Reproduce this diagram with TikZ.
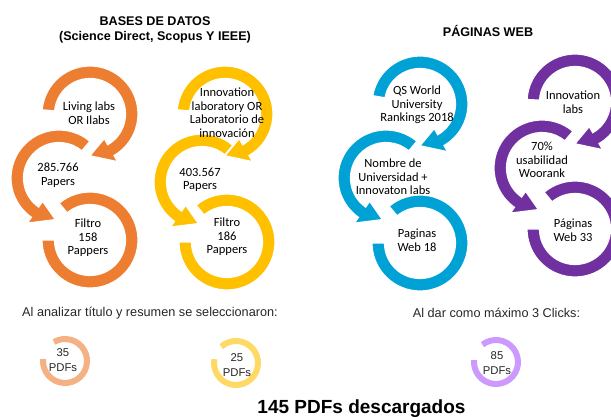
\documentclass[tikz,border=0pt]{standalone}
\usepackage{fontspec}
\setmainfont{Liberation Sans}
\newfontfamily\calfont{Carlito}
\usetikzlibrary{calc}
\definecolor{corange}{HTML}{ED7D31}
\definecolor{cyellow}{HTML}{FFC000}
\definecolor{cblue}{HTML}{00A2D6}
\definecolor{cpurple}{HTML}{7030A0}
\definecolor{lorange}{HTML}{F4B183}
\definecolor{lyellow}{HTML}{FFD966}
\definecolor{lpurple}{HTML}{CC99FF}
\definecolor{txtgray}{HTML}{262626}
% #1 centre, #2 start angle, #3 end angle, #4 tip angle, #5 colour
\newcommand\arrowring[5]{%
  \filldraw[ringshape, fill=#5] ($(#1)+(#2:48)$) arc[start angle=#2, end angle=#3, radius=48]
    -- ($(#1)+(#3:55)$) -- ($(#1)+(#4:41.75)$) -- ($(#1)+(#3:28.5)$)
    -- ($(#1)+(#3:35.5)$) arc[start angle=#3, end angle=#2, radius=35.5] -- cycle;}
% #1 centre, #2 start angle, #3 end angle, #4 colour
\newcommand\plainring[4]{%
  \filldraw[ringshape, fill=#4] ($(#1)+(#2:48)$) arc[start angle=#2, end angle=#3, radius=48]
    -- ($(#1)+(#3:35.5)$) arc[start angle=#3, end angle=#2, radius=35.5] -- cycle;}
\begin{document}
\begin{tikzpicture}[x=1pt, y=-1pt,
  ringshape/.style={draw=white, line width=1.2pt, line join=miter},
  lbl/.style={font=\calfont\fontsize{12.5}{13.5}\selectfont, align=center, inner sep=0pt, text=black},
  head/.style={font=\fontsize{12.6}{15.5}\selectfont\bfseries, align=center, inner sep=0pt, text=black},
  capt/.style={font=\fontsize{12.7}{14}\selectfont, inner sep=0pt, text=txtgray},
  pdf/.style={font=\fontsize{11.3}{14.3}\selectfont, align=center, inner sep=0pt, text=txtgray},
  smallring/.style={line width=6pt}]
\useasboundingbox (0,0) rectangle (611,417);
\clip (0,0) rectangle (611,417);

% headings
\node[head] (hbd) at (155,21) {BASES DE DATOS};
\node[head] (hsc) at (155,37) {(Science Direct, Scopus Y IEEE)};
\node[head] (hpw) at (488,31) {PÁGINAS WEB};

% ring centres
\coordinate (o1) at (90,114);  \coordinate (o2) at (59,178);  \coordinate (o3) at (90,240);
\coordinate (y1) at (225,114); \coordinate (y2) at (202,182); \coordinate (y3) at (227,242);
\coordinate (b1) at (420,104); \coordinate (b2) at (386,178); \coordinate (b3) at (420,243);
\coordinate (p1) at (575,102); \coordinate (p2) at (542,168); \coordinate (p3) at (575,229);

% orange column
\plainring{o3}{230}{540}{corange}
\arrowring{o2}{310}{125}{95}{corange}
\arrowring{o1}{185}{420}{450}{corange}
% yellow column
\plainring{y3}{230}{540}{cyellow}
\arrowring{y2}{310}{125}{95}{cyellow}
\arrowring{y1}{185}{420}{450}{cyellow}
% blue column
\plainring{b3}{230}{540}{cblue}
\arrowring{b2}{310}{125}{95}{cblue}
\arrowring{b1}{190}{420}{450}{cblue}
% purple column
\plainring{p3}{230}{540}{cpurple}
\arrowring{p2}{310}{125}{95}{cpurple}
\arrowring{p1}{183}{420}{450}{cpurple}

% ring labels
\node[lbl] (to1) at (89,113) {Living labs\\OR Ilabs};
\node[lbl] (to2) at (58,175) {285.766\\Papers};
\node[lbl] (to3) at (88,238) {Filtro\\158\\Pappers};
\node[lbl] (ty1) at (227,112.5) {Innovation\\laboratory OR\\Laboratorio de\\innovación};
\node[lbl] (ty2) at (200,180) {403.567\\Papers};
\node[lbl] (ty3) at (227,237) {Filtro\\186\\Pappers};
\node[lbl] (tb1) at (417,105) {QS World\\University\\Rankings 2018};
\node[lbl] (tb2) at (393,177) {Nombre de\\Universidad +\\Innovaton labs};
\node[lbl] (tb3) at (417,240) {Paginas\\Web 18};
\node[lbl] (tp1) at (573,102) {Innovation\\labs};
\node[lbl] (tp2) at (542,160) {70\%\\usabilidad\\Woorank};
\node[lbl] (tp3) at (573,230) {Páginas\\Web 33};

% captions
\node[capt] (c1) at (150,313) {Al analizar título y resumen se seleccionaron:};
\node[capt] (c2) at (496.5,313) {Al dar como máximo 3 Clicks:};

% small rings
\coordinate (s1) at (65,361); \coordinate (s2) at (236,363); \coordinate (s3) at (496,362);
\draw[smallring, lorange] ($(s1)+(240:22)$) arc[start angle=240, end angle=545, radius=22];
\draw[smallring, lyellow] ($(s2)+(228:22)$) arc[start angle=228, end angle=550, radius=22];
\draw[smallring, lpurple] ($(s3)+(232:22)$) arc[start angle=232, end angle=545, radius=22];
\node[pdf] (n1) at (63,360) {35\\PDFs};
\node[pdf] (n2) at (237,365) {25\\PDFs};
\node[pdf] (n3) at (497,363) {85\\PDFs};

% total
\node[font=\fontsize{19}{20}\selectfont\bfseries, inner sep=0pt, anchor=base, text=black] (tot) at (361.5,413) {145 PDFs descargados};
\end{tikzpicture}
\end{document}
